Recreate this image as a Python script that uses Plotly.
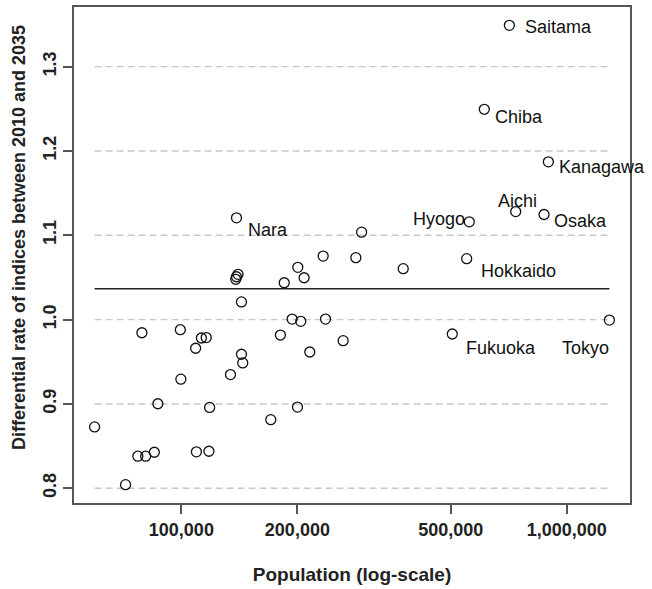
import numpy as np
import plotly.graph_objects as go

# ---- data ----
population = [
    709600, 610900, 895800, 737000, 873000, 558500, 549900, 504600, 1290000, 139000,
    293500, 233300, 283600, 376400, 200500, 208200, 140300, 139000, 138400, 184900,
    143200, 193800, 204100, 236600, 79000, 99400, 112700, 116000, 180700, 262900,
    108900, 215400, 143200, 144300, 134100, 99700, 86900, 118400, 200100, 170600,
    59550, 77100, 80800, 85100, 109400, 117900, 71660,
]
rate = [
    1.3489, 1.2494, 1.1871, 1.1281, 1.1246, 1.1159, 1.0723, 0.9829, 0.9994, 1.1207,
    1.1037, 1.0753, 1.0734, 1.0604, 1.0620, 1.0496, 1.0537, 1.0508, 1.0478, 1.0437,
    1.0210, 1.0006, 0.9979, 1.0006, 0.9844, 0.9880, 0.9782, 0.9787, 0.9817, 0.9750,
    0.9660, 0.9616, 0.9589, 0.9486, 0.9348, 0.9294, 0.9002, 0.8959, 0.8963, 0.8813,
    0.8727, 0.8380, 0.8380, 0.8427, 0.8432, 0.8439, 0.8043,
]
labels = ["Saitama", "Chiba", "Kanagawa", "Aichi", "Osaka", "Hyogo",
          "Hokkaido", "Fukuoka", "Tokyo", "Nara"]
reference_rate = 1.0366
grid_values = [0.8, 0.9, 1.0, 1.1, 1.2, 1.3]
x_tick_values = [100000, 200000, 500000, 1000000]
x_tick_labels = ["100,000", "200,000", "500,000", "1,000,000"]
y_tick_labels = ["0.8", "0.9", "1.0", "1.1", "1.2", "1.3"]
x_title = "Population (log-scale)"
y_title = "Differential rate of indices between 2010 and 2035"

# label placement (xanchor, xshift, yshift) in pixels
label_style = {
    "Saitama": ("left", 14, -2),
    "Chiba": ("left", 9, -8),
    "Kanagawa": ("left", 9, -5),
    "Aichi": ("center", 2, 11),
    "Osaka": ("left", 8, -6),
    "Hyogo": ("right", -2, 3),
    "Hokkaido": ("left", 12, -12),
    "Fukuoka": ("left", 12, -14),
    "Tokyo": ("right", 2, -28),
    "Nara": ("left", 10, -12),
}

FONT = "Liberation Sans, Arial, sans-serif"
FRAME = "#555555"

fig = go.Figure()

pmin, pmax = min(population), max(population)
for g in grid_values:
    fig.add_trace(go.Scatter(
        x=[pmin, pmax], y=[g, g], mode="lines",
        line=dict(color="#c8c8c8", width=1.4, dash="7px,4px"),
        hoverinfo="skip", showlegend=False))

fig.add_trace(go.Scatter(
    x=[pmin, pmax], y=[reference_rate, reference_rate], mode="lines",
    line=dict(color="#222222", width=1.6), hoverinfo="skip", showlegend=False))

fig.add_trace(go.Scatter(
    x=population, y=rate, mode="markers",
    marker=dict(symbol="circle-open", size=10, color="#111111",
                line=dict(width=1.3, color="#111111")),
    showlegend=False))

for i, name in enumerate(labels):
    xa, xs, ys = label_style[name]
    fig.add_annotation(
        x=np.log10(population[i]), y=rate[i], xref="x", yref="y",
        text=name, showarrow=False, xanchor=xa, yanchor="middle",
        xshift=xs, yshift=ys,
        font=dict(family=FONT, size=18, color="#111111"))

# y-axis title as a rotated annotation
fig.add_annotation(
    x=-0.1, y=0.535, xref="paper", yref="paper", text=y_title,
    textangle=-90, showarrow=False, xanchor="center", yanchor="middle",
    font=dict(family=FONT, size=18, color="#222222", weight="bold"))

lx0, lx1 = np.log10(pmin), np.log10(pmax)
px = 0.04 * (lx1 - lx0)
ry0, ry1 = min(rate), max(rate)
py = 0.04 * (ry1 - ry0)

fig.update_xaxes(
    type="log", range=[lx0 - px, lx1 + px],
    tickmode="array", tickvals=x_tick_values, ticktext=x_tick_labels,
    ticks="outside", ticklen=9, tickwidth=1.5, tickcolor=FRAME,
    showline=True, linecolor=FRAME, linewidth=2, mirror=True,
    showgrid=False, zeroline=False,
    tickfont=dict(family=FONT, size=18, color="#222222", weight="bold"),
    title=dict(text=x_title, standoff=29,
               font=dict(family=FONT, size=19, color="#222222", weight="bold")),
)
fig.update_yaxes(
    range=[ry0 - py, ry1 + py],
    tickmode="array", tickvals=grid_values, ticktext=y_tick_labels,
    tickangle=-90,
    ticks="outside", ticklen=9, tickwidth=1.5, tickcolor=FRAME,
    showline=True, linecolor=FRAME, linewidth=2, mirror=True,
    showgrid=False, zeroline=False,
    tickfont=dict(family=FONT, size=18, color="#222222", weight="bold"),
)

fig.update_layout(
    width=652, height=589,
    margin=dict(l=74, r=22, t=7, b=86, autoexpand=False),
    paper_bgcolor="white", plot_bgcolor="white",
    showlegend=False,
)

fig.write_html("out.html", config={"displayModeBar": False},
               post_script="document.body.style.margin='0';document.body.style.overflow='hidden';")
